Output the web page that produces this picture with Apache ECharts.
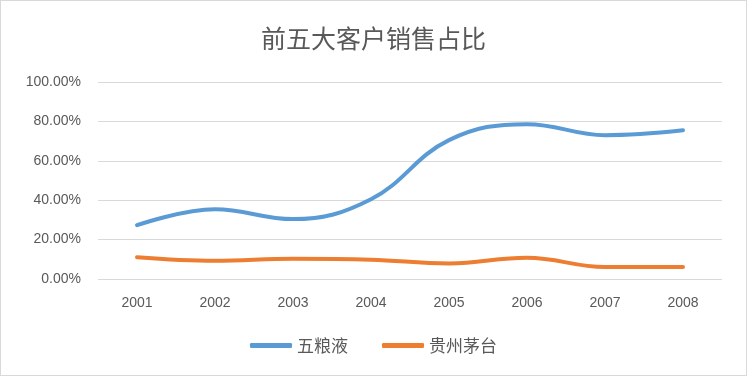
<!DOCTYPE html>
<html>
<head>
<meta charset="utf-8">
<script src="https://cdn.jsdelivr.net/npm/echarts@6/dist/echarts.min.js"></script>
<style>
html,body{margin:0;padding:0;background:#fff;}
#chart{width:745px;height:374px;border:1px solid #d9d9d9;}
</style>
</head>
<body>
<div id="chart"></div>
<script>
// 数据
const years = ['2001','2002','2003','2004','2005','2006','2007','2008']
const wuliangye = [27.3, 35.4, 30.4, 40.5, 70.5, 78.6, 73.0, 75.5]
const maotai = [11.1, 9.3, 10.3, 9.8, 7.9, 10.8, 6.1, 6.1]
const seriesNames = ['五粮液', '贵州茅台']

let chart = echarts.init(document.getElementById('chart'))
chart.setOption({
  backgroundColor: '#fff',
  animation: false,
  title: {
    text: '前五大客户销售占比',
    left: 'center',
    top: 20,
    textStyle: {
      color: '#595959',
      fontSize: 25,
      fontWeight: 'normal',
      fontFamily: 'Noto Sans CJK SC'
    }
  },
  legend: {
    data: seriesNames,
    bottom: 16,
    left: 'center',
    icon: 'roundRect',
    itemWidth: 42,
    itemHeight: 5,
    itemGap: 34,
    textStyle: {
      color: '#595959',
      fontSize: 17,
      fontFamily: 'Noto Sans CJK SC'
    }
  },
  grid: {
    left: 97,
    right: 24,
    top: 81,
    bottom: 96
  },
  xAxis: {
    type: 'category',
    data: years,
    boundaryGap: true,
    axisTick: { show: false },
    axisLine: { show: false },
    axisLabel: {
      color: '#595959',
      fontSize: 14,
      margin: 17,
      fontFamily: 'Liberation Sans'
    }
  },
  yAxis: {
    type: 'value',
    min: 0,
    max: 100,
    interval: 20,
    axisLabel: {
      color: '#595959',
      fontSize: 14,
      margin: 17,
      fontFamily: 'Liberation Sans',
      formatter: (v) => v.toFixed(2) + '%'
    },
    splitLine: { lineStyle: { color: '#d9d9d9', width: 1 } }
  },
  series: [{
    name: seriesNames[0],
    type: 'line',
    smooth: 0.4,
    showSymbol: false,
    data: wuliangye,
    itemStyle: { color: '#5b9bd5' },
    lineStyle: { color: '#5b9bd5', width: 4, cap: 'round' }
  }, {
    name: seriesNames[1],
    type: 'line',
    smooth: 0.4,
    showSymbol: false,
    data: maotai,
    itemStyle: { color: '#ed7d31' },
    lineStyle: { color: '#ed7d31', width: 4, cap: 'round' }
  }]
})
</script>
</body>
</html>
